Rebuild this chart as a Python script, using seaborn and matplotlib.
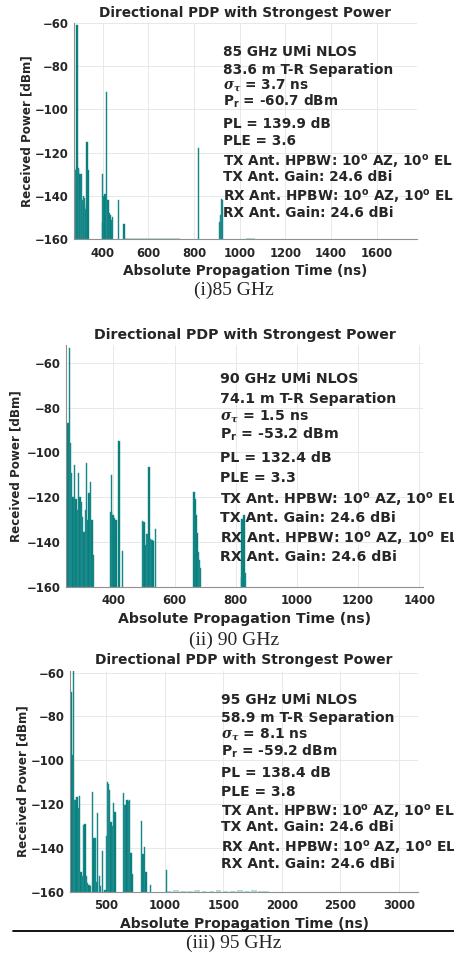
import numpy as np
import seaborn as sns
import matplotlib
matplotlib.use('Agg')
import matplotlib.pyplot as plt
from matplotlib.lines import Line2D

# --- 85 GHz PDP (time ns, power dBm) ---
t85 = [274, 277, 280, 284, 288, 291, 294, 297, 300, 303, 306, 309, 312, 315, 318, 321, 324, 327, 332, 336,
       398, 401, 405, 409, 416, 420, 424, 428, 432, 437, 442, 469, 493, 820, 912, 916, 921, 925]
p85 = [-130, -127, -128, -129, -60.7, -127, -128, -136, -130, -141, -130, -143, -142, -140, -144, -141, -146, -147, -115, -128,
       -130, -152, -140, -139, -92, -143, -142, -148, -149, -151, -150, -142, -153, -118, -152, -149, -141.5, -142]
floor85_t = [505, 525, 545, 565, 585, 605, 625, 645, 665, 685, 705, 725, 1040, 1052]
floor85_p = [-159.4, -159.5, -159.4, -159.6, -159.4, -159.5, -159.4, -159.5, -159.6, -159.4, -159.5, -159.4, -159.4, -159.5]

# --- 90 GHz PDP ---
t90 = [245, 247, 251, 256, 259, 263, 268, 273, 277, 282, 286, 290, 295, 299, 304, 308, 312, 317, 321, 325, 330, 335,
       392, 394, 398, 402, 408, 419, 430,
       495, 500, 504, 508, 512, 517, 521, 526, 530, 537,
       663, 667, 670, 674, 678, 681, 685,
       818, 820, 823, 827, 831]
p90 = [-111.6, -92, -87, -53.2, -96, -109.4, -119.8, -105.7, -121, -125.8, -109.4, -119.8, -122, -128.8, -135.4, -125.8,
       -104.6, -130, -118.3, -113, -130, -145.8,
       -126.5, -110.1, -128, -129.5, -130.2, -94.8, -144,
       -130.5, -131, -141.4, -136.6, -136.6, -106.7, -138.8, -139, -139.5, -134.4,
       -117.9, -121, -128, -136.2, -144.4, -148, -151.8,
       -155.5, -129.9, -150.3, -128, -153.8]

# --- 95 GHz PDP ---
t95 = [195, 201, 209, 221, 232, 244, 253, 264, 276, 287, 298, 310, 322, 333, 344, 355, 370,
       387, 399, 410, 422, 429, 444, 455, 472, 491,
       503, 511, 520, 531, 543, 554, 565, 577,
       648, 659, 671, 679, 691, 702, 713, 722,
       804, 816, 827, 841, 878, 1018]
p95 = [-99.1, -69, -97.6, -59.2, -118.1, -118.2, -116.6, -121.9, -116.5, -150.9, -153, -129.5, -129, -153, -156.2, -157, -157.2,
       -114.3, -135.6, -135.6, -155.5, -124.2, -153, -157.4, -141.4, -159,
       -134.4, -109.8, -110.6, -113.6, -128, -130, -119.6, -123.4,
       -114.8, -120.4, -120.3, -118.1, -118.6, -118.1, -142.5, -152,
       -127.7, -143, -139.4, -151, -157, -150.1]
floor95_t = [1040, 1100, 1160, 1220, 1280, 1340, 1400, 1460, 1520, 1580, 1640, 1700, 1760, 1820, 1870]
floor95_p = [-159.5, -159.4, -159.5, -159.5, -159.4, -159.5, -159.5, -159.4, -159.5, -159.5, -159.4, -159.5, -159.4, -159.5, -159.5]

info85 = ['85 GHz UMi NLOS', '83.6 m T-R Separation', r'$\sigma_\tau$ = 3.7 ns', r'P$_\mathbf{r}$ = -60.7 dBm',
          'PL = 139.9 dB', 'PLE = 3.6', r'TX Ant. HPBW: 10$^\mathbf{o}$ AZ, 10$^\mathbf{o}$ EL',
          'TX Ant. Gain: 24.6 dBi', r'RX Ant. HPBW: 10$^\mathbf{o}$ AZ, 10$^\mathbf{o}$ EL', 'RX Ant. Gain: 24.6 dBi']
info90 = ['90 GHz UMi NLOS', '74.1 m T-R Separation', r'$\sigma_\tau$ = 1.5 ns', r'P$_\mathbf{r}$ = -53.2 dBm',
          'PL = 132.4 dB', 'PLE = 3.3'] + info85[6:]
info95 = ['95 GHz UMi NLOS', '58.9 m T-R Separation', r'$\sigma_\tau$ = 8.1 ns', r'P$_\mathbf{r}$ = -59.2 dBm',
          'PL = 138.4 dB', 'PLE = 3.8'] + info85[6:]

sns.set_style('whitegrid')
plt.rcParams['font.family'] = ['DejaVu Sans']
plt.rcParams['font.weight'] = 'bold'
plt.rcParams['mathtext.fontset'] = 'custom'
plt.rcParams['mathtext.rm'] = 'DejaVu Sans:bold'
plt.rcParams['mathtext.bf'] = 'DejaVu Sans:bold'
plt.rcParams['mathtext.it'] = 'DejaVu Serif:italic'

W, H = 454, 958
fig = plt.figure(figsize=(W / 100, H / 100), dpi=100)


def px(x, y):
    return x / W, 1 - y / H


teal = '#007676'
edge = '#2f9898'

panels = [
    dict(t=t85, p=p85, ft=floor85_t, fp=floor85_p, box=(74, 23, 417, 239), xlim=(274, 1777), ylim=(-160, -60),
         xticks=range(400, 1601, 200), width=6.5, info=info85, tx=223, ty=[51, 69, 84, 101, 123, 140, 161, 176, 196, 212],
         fs=9.8, ylab_x=27, cap='(i)85 GHz', cap_y=290),
    dict(t=t90, p=p90, ft=[], fp=[], box=(66, 345, 423, 586.7), xlim=(245, 1412), ylim=(-160, -52),
         xticks=range(400, 1401, 200), width=5, info=info90, tx=220, ty=[378, 398, 415, 434, 457, 477, 499, 517, 538, 556],
         fs=10.2, ylab_x=16, cap='(ii) 90 GHz', cap_y=640),
    dict(t=t95, p=p95, ft=floor95_t, fp=floor95_p, box=(70, 670.5, 418, 891.7), xlim=(193, 3162), ylim=(-160, -59),
         xticks=range(500, 3001, 500), width=12.5, info=info95, tx=221, ty=[699, 717, 733, 751, 772, 791, 811, 826, 847, 863],
         fs=10.0, ylab_x=23, cap='(iii) 95 GHz', cap_y=943),
]

for pn in panels:
    x0, y0, x1, y1 = pn['box']
    ax = fig.add_axes([x0 / W, 1 - y1 / H, (x1 - x0) / W, (y1 - y0) / H])
    base = pn['ylim'][0]
    if pn['ft']:
        ax.bar(pn['ft'], np.array(pn['fp']) - base, bottom=base, width=pn['width'] * 4,
               color='#b5dada', linewidth=0, zorder=2)
    ax.bar(pn['t'], np.array(pn['p']) - base, bottom=base, width=pn['width'],
           color=teal, edgecolor=edge, linewidth=0.35, zorder=2)
    ax.set_xlim(*pn['xlim'])
    ax.set_ylim(*pn['ylim'])
    ax.set_xticks(list(pn['xticks']))
    ax.set_yticks(range(-160, -59, 20))
    ax.grid(True, color='#e8e8e8', linewidth=0.7)
    for s in ['top', 'right']:
        ax.spines[s].set_visible(False)
    for s in ['left', 'bottom']:
        ax.spines[s].set_color('#909090')
        ax.spines[s].set_linewidth(0.8)
        ax.spines[s].set_zorder(3)
    ax.tick_params(axis='both', labelsize=8.4, colors='#262626', direction='in', length=2.5, pad=4)
    ax.tick_params(axis='x', pad=5.5)
    for lab in ax.get_xticklabels() + ax.get_yticklabels():
        lab.set_fontweight('bold')
    ax.set_title('Directional PDP with Strongest Power', fontsize=pn['fs'], fontweight='bold', pad=4.5)
    ax.set_xlabel('Absolute Propagation Time (ns)', fontsize=pn['fs'], fontweight='bold', color='#262626')
    ax.xaxis.set_label_coords(0.5, -25 / (y1 - y0))
    ax.set_ylabel('Received Power [dBm]', fontsize=8.6, fontweight='bold', color='#262626')
    ax.yaxis.label.set_va('center')
    ax.yaxis.set_label_coords((pn['ylab_x'] - x0) / (x1 - x0), 0.5)

    for line, yy in zip(pn['info'], pn['ty']):
        fig.text(*px(pn['tx'], yy + 5), line, fontsize=pn['fs'], fontweight='bold', va='baseline', ha='left')

    fig.text(*px(234, pn['cap_y']), pn['cap'], family='Liberation Serif', fontweight='normal',
             fontsize=14, ha='center', va='center')

fig.add_artist(Line2D([13 / W, 1.0], [1 - 931 / H, 1 - 931 / H], transform=fig.transFigure, color='black', lw=1.3))

fig.savefig('out.png', dpi=100)
